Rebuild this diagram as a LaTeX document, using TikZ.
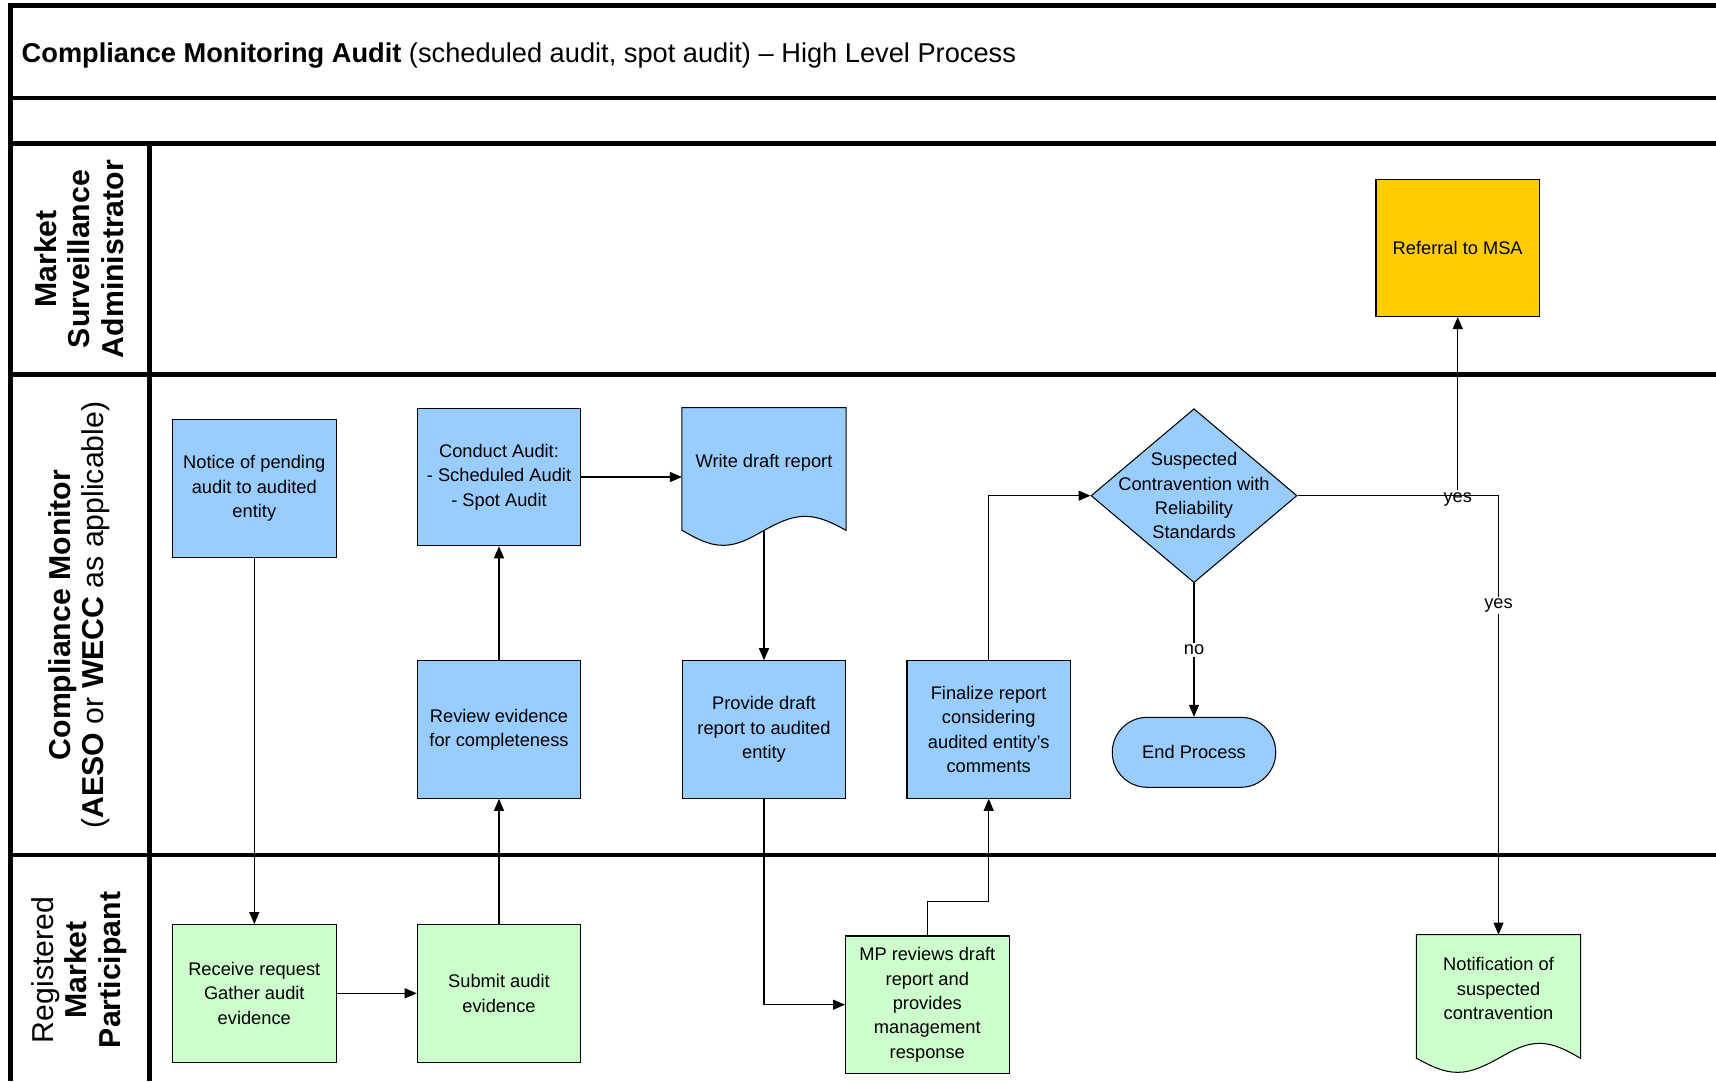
\documentclass[tikz,border=0pt]{standalone}
\usepackage{fontspec}
\setmainfont{Liberation Sans}
\usetikzlibrary{shapes.geometric,arrows.meta}
\definecolor{cmblue}{HTML}{99CCFF}
\definecolor{mpgreen}{HTML}{CCFFCC}
\definecolor{msagold}{HTML}{FFCC00}

\begin{document}
\begin{tikzpicture}[x=0.02cm,y=-0.02cm,
  lane/.style={line width=2.8pt},
  box/.style={draw,line width=0.6pt,minimum width=3.27cm,minimum height=2.75cm,inner sep=2pt,align=center,font=\fontsize{10.4}{13.9}\selectfont},
  cmbox/.style={box,fill=cmblue},
  mpbox/.style={box,fill=mpgreen},
  docframe/.style={minimum width=3.27cm,inner sep=0pt},
  doctext/.style={align=center,font=\fontsize{10.4}{13.9}\selectfont},
  decision/.style={diamond,draw,fill=cmblue,line width=0.6pt,minimum width=4.12cm,minimum height=3.48cm,inner sep=0pt},
  arr/.style={-{Triangle[length=2.4mm,width=2mm]},line width=0.6pt},
  lbl/.style={fill=white,inner sep=1pt,font=\fontsize{10.4}{12}\selectfont},
  lanetext/.style={rotate=90,align=center,font=\fontsize{17.2}{19}\selectfont}]

\useasboundingbox (0,0) rectangle (1716,1081);

\begin{scope}
\draw[lane] (1716,5.5) -- (10.5,5.5) -- (10.5,1081);
\draw[lane] (10.5,98) -- (1716,98);
\draw[lane] (10.5,143.5) -- (1716,143.5);
\draw[lane] (10.5,374.5) -- (1716,374.5);
\draw[lane] (10.5,855) -- (1716,855);
\draw[lane] (149.5,143.5) -- (149.5,1081);
\node[anchor=west,font=\fontsize{15.5}{18}\selectfont] (title) at (15.5,55.5)
  {\textbf{Compliance Monitoring Audit} (scheduled audit, spot audit) – High Level Process};
\node[lanetext] (msalane) at (79,259) {\textbf{Market}\\\textbf{Surveillance}\\\textbf{Administrator}};
\node[lanetext] (cmlane) at (79,615) {\textbf{Compliance Monitor}\\(\textbf{AESO} or \textbf{WECC} as applicable)};
\node[lanetext] (mplane) at (79,970) {Registered\\\textbf{Market}\\\textbf{Participant}};
\end{scope}

\begin{scope}
\node[cmbox] (notice) at (254.3,488.5) {Notice of pending\\audit to audited\\entity};
\node[cmbox] (conduct) at (499,477) {Conduct Audit:\\- Scheduled Audit\\- Spot Audit};
\node[cmbox] (review) at (499,729.5) {Review evidence\\for completeness};
\node[cmbox] (provide) at (764,729.5) {Provide draft\\report to audited\\entity};
\node[cmbox] (finalize) at (988.7,729.5) {Finalize report\\considering\\audited entity’s\\comments};
\node[docframe,minimum height=2.44cm] (write) at (764,469) {};
\filldraw[fill=cmblue,line width=0.6pt] (write.south west) -- (write.north west) -- (write.north east) -- (write.south east)
  sin ++(-41,-14) cos ++(-41,14) sin ++(-41,15) cos ++(-41,-15) -- cycle;
\node[doctext] (writetxt) at (764,463) {Write draft report};
\node[decision,label={[doctext]center:Suspected\\Contravention with\\Reliability\\Standards}] (suspect) at (1194,495.7) {};
\node[box,fill=cmblue,minimum height=1.4cm,rounded corners=0.7cm] (endproc) at (1194,752.3) {End Process};
\node[box,fill=msagold] (referral) at (1457.7,247.8) {Referral to MSA};
\end{scope}

\begin{scope}
\node[mpbox] (receive) at (254.3,993.3) {Receive request\\Gather audit\\evidence};
\node[mpbox] (submit) at (499,993.3) {Submit audit\\evidence};
\node[mpbox] (mp) at (927.3,1004.7) {MP reviews draft\\report and\\provides\\management\\response};
\node[docframe,minimum height=2.46cm] (notify) at (1498.5,996.5) {};
\filldraw[fill=mpgreen,line width=0.6pt] (notify.south west) -- (notify.north west) -- (notify.north east) -- (notify.south east)
  sin ++(-41,-15) cos ++(-41,15) sin ++(-41,14) cos ++(-41,-14) -- cycle;
\node[doctext] (notifytxt) at (1498.5,988.5) {Notification of\\suspected\\contravention};
\end{scope}

\draw[arr] (notice) -- (receive);
\draw[arr] (receive) -- (submit);
\draw[arr] (submit) -- (review);
\draw[arr] (review) -- (conduct);
\draw[arr] (conduct.east) -- (conduct.east -| write.west);
\draw[arr] (write.south) -- (provide.north);
\draw[arr] (provide.south) |- (mp.west);
\draw[arr] (mp.north) -- ++(0,-34) -| (finalize.south);
\draw[arr] (finalize.north) |- (suspect.west);
\draw[arr] (suspect.south) -- node[lbl] {no} (endproc.north);
\draw[arr] (suspect.east) -| node[lbl,pos=0.625] {yes} (notify.north);
\node[font=\fontsize{10.4}{12}\selectfont,inner sep=1pt] (yesup) at (1457.7,499) {yes};
\draw[arr] (yesup.north) -- (referral.south);

\end{tikzpicture}
\end{document}
